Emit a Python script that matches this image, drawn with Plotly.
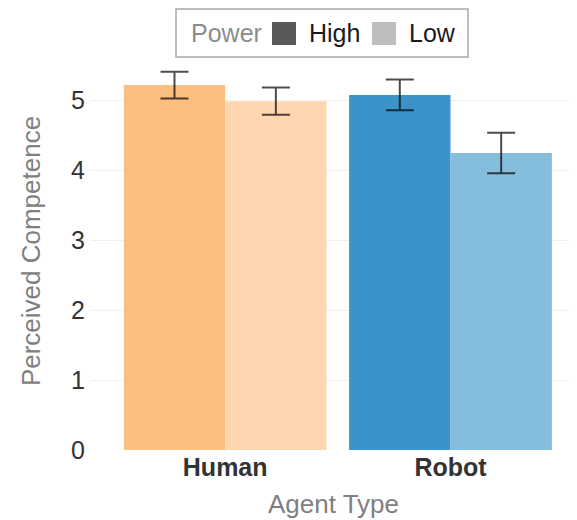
import plotly.graph_objects as go

agents = ["Human", "Robot"]
power_levels = ["High", "Low"]
high_means = [5.22, 5.08]
high_se = [0.19, 0.22]
low_means = [4.99, 4.25]
low_se = [0.195, 0.29]
y_ticks = [0, 1, 2, 3, 4, 5]

high_colors = ["#FDBF80", "#3B94C9"]
low_colors = ["#FED7B0", "#85BDDD"]
legend_colors = ["#595959", "#BEBEBE"]

FONT = "Liberation Sans, Arial, Helvetica, sans-serif"
OFF = 8  # browser body margin
W, H = 577 - OFF, 520 - OFF
ML, MR, MT, MB = 90 - OFF, 0, 52 - OFF, 70
PW, PH = W - ML - MR, H - MT - MB


def px(x):
    return (x - OFF - ML) / PW


def py(y):
    return (H - MB - (y - OFF)) / PH


fig = go.Figure()
for name, means, se, cols in [("High", high_means, high_se, high_colors),
                              ("Low", low_means, low_se, low_colors)]:
    fig.add_trace(go.Bar(
        x=agents, y=means, name=name, marker=dict(color=cols, line=dict(width=0)),
        error_y=dict(type="data", array=se, visible=True, color="rgba(0,0,0,0.7)",
                     thickness=2, width=14),
        showlegend=False,
    ))

# manual legend (ggplot-like, large keys)
shapes = [dict(type="rect", xref="paper", yref="paper",
               x0=px(176), x1=px(468), y0=py(9), y1=py(57),
               line=dict(color="#A8A8A8", width=1.5), fillcolor="white", layer="above")]
annotations = [dict(text="Power", xref="paper", yref="paper", x=px(189), y=py(33),
                    xanchor="left", yanchor="middle", showarrow=False,
                    font=dict(size=25, color="#8C8C8C", family=FONT))]
key_x = [(272, 296, 307), (372, 396, 407)]
for lvl, col, (k0, k1, tx) in zip(power_levels, legend_colors, key_x):
    shapes.append(dict(type="rect", xref="paper", yref="paper",
                       x0=px(k0), x1=px(k1), y0=py(22), y1=py(45),
                       line=dict(width=0), fillcolor=col, layer="above"))
    annotations.append(dict(text=lvl, xref="paper", yref="paper", x=px(tx), y=py(33),
                            xanchor="left", yanchor="middle", showarrow=False,
                            font=dict(size=25, color="#1A1A1A", family=FONT)))

fig.update_layout(
    width=W, height=H,
    margin=dict(l=ML, r=MR, t=MT, b=MB, pad=0, autoexpand=False),
    paper_bgcolor="white", plot_bgcolor="white",
    barmode="group", bargap=0.1, bargroupgap=0,
    font=dict(family=FONT, size=25, color="#333333"),
    shapes=shapes, annotations=annotations,
    xaxis=dict(range=[-0.6, -0.6 + PW / 225.3], showgrid=False, zeroline=False,
               ticks="", showline=False, automargin=False,
               tickvals=agents, ticktext=[f"<b>{a}</b>" for a in agents],
               tickfont=dict(size=25, color="#333333"),
               title=dict(text="Agent Type", font=dict(size=26, color="#808080"), standoff=14)),
    yaxis=dict(range=[0, PH / 69.9], tickvals=y_ticks, showgrid=True, gridcolor="#EFEFEF",
               gridwidth=1, zeroline=False, ticks="", showline=False, automargin=False,
               ticklabelstandoff=4,
               tickfont=dict(size=25, color="#333333"),
               title=dict(text="Perceived Competence", font=dict(size=26, color="#808080"),
                          standoff=22)),
)

fig.write_html("out.html")
